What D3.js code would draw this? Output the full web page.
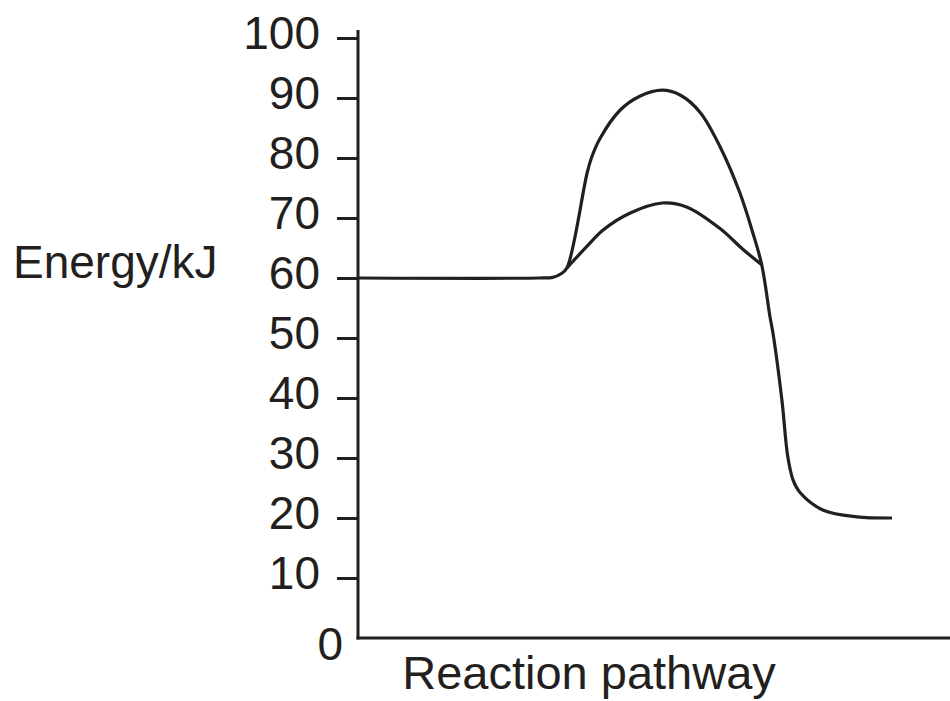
<!DOCTYPE html>
<html>
<head>
<meta charset="utf-8">
<script src="https://cdn.jsdelivr.net/npm/d3@7"></script>
<style>
  body { margin: 0; background: #fff; }
  svg { display: block; }
  text { font-family: "Liberation Sans", Arial, sans-serif; fill: #231f20; }
</style>
</head>
<body>
<svg width="950" height="701"></svg>
<script>
// energy ticks
var energyTicks = [10, 20, 30, 40, 50, 60, 70, 80, 90, 100];

// uncatalysed path: flat reactants, tall hump, drop to products
var pathX = [0, 30.7, 32.9, 34.3, 35.3, 38.7, 39.5, 40.9, 44.3, 47.6, 51.4, 54.4, 57.8, 61.2, 64.5, 66.7, 68.2, 69.6, 70.1, 71.6, 72.6, 73.5, 74.7, 78.6, 84.3, 90.2];
var pathE = [60, 60, 60.1, 60.7, 61.7, 77.5, 80.2, 83.3, 88, 90.3, 91.3, 90.5, 87.6, 81.8, 74.2, 67.5, 62.2, 53.5, 50.8, 39.7, 30.2, 26.3, 24.2, 21.3, 20.2, 20];

// catalysed hump
var lowX = [35.3, 38.7, 41.4, 45.9, 51.4, 55.6, 61.2, 65.0, 68.2];
var lowE = [61.7, 65.3, 68, 70.8, 72.5, 71.8, 68.2, 64.8, 62.2];

var svg = d3.select("svg");
var ink = "#231f20";

var x = d3.scaleLinear().domain([0, 100]).range([358, 950]);
var y = d3.scaleLinear().domain([0, 100]).range([638, 38]);

// axis lines
svg.append("line")
  .attr("x1", x(0)).attr("x2", x(0))
  .attr("y1", y(0) + 1.5).attr("y2", 30)
  .attr("stroke", ink).attr("stroke-width", 3);
svg.append("line")
  .attr("x1", x(0) - 1.5).attr("x2", x(100))
  .attr("y1", y(0)).attr("y2", y(0))
  .attr("stroke", ink).attr("stroke-width", 3);

var yAxis = d3.axisLeft(y)
  .tickValues(energyTicks)
  .tickSize(21)
  .tickPadding(17);

var yGroup = svg.append("g")
  .attr("transform", "translate(" + x(0) + ",0)")
  .call(yAxis);
yGroup.select(".domain").remove();
yGroup.selectAll(".tick line").attr("stroke", ink).attr("stroke-width", 3);
yGroup.selectAll(".tick text")
  .attr("dy", null)
  .attr("y", 10)
  .style("font-size", "46px")
  .style("font-family", "'Liberation Sans', Arial, sans-serif")
  .attr("fill", ink);

// zero label sits below the corner
svg.append("text")
  .attr("x", x(0) - 15)
  .attr("y", y(0) + 22)
  .attr("text-anchor", "end")
  .style("font-size", "46px")
  .text("0");

var line = d3.line()
  .x(function(d) { return x(d[0]); })
  .y(function(d) { return y(d[1]); })
  .curve(d3.curveCatmullRom.alpha(0.5));

svg.append("path")
  .datum(d3.zip(pathX, pathE))
  .attr("d", line)
  .attr("fill", "none")
  .attr("stroke", ink)
  .attr("stroke-width", 3.2);

svg.append("path")
  .datum(d3.zip(lowX, lowE))
  .attr("d", line)
  .attr("fill", "none")
  .attr("stroke", ink)
  .attr("stroke-width", 3.2);

svg.append("text")
  .attr("x", 13)
  .attr("y", y(60))
  .style("font-size", "46px")
  .text("Energy/kJ");

svg.append("text")
  .attr("x", 589)
  .attr("y", 689)
  .attr("text-anchor", "middle")
  .style("font-size", "47px")
  .text("Reaction pathway");
</script>
</body>
</html>
